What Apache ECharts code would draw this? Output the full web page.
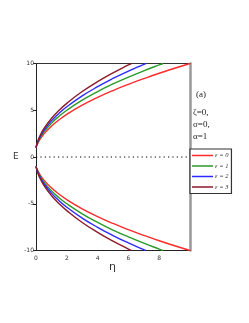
<!DOCTYPE html>
<html><head><meta charset="utf-8">
<script src="https://cdn.jsdelivr.net/npm/echarts@6/dist/echarts.min.js"></script>
<style>html,body{margin:0;padding:0;background:#fff;}#c{width:249px;height:323px;}</style>
</head><body><div id="c"></div>
<script>
// η sample points per curve and read-off E values (upper branch; lower branch mirrors)
const eta0 = [0, 0.1, 0.25, 0.5, 1, 1.5, 2, 3, 4, 5, 6, 7, 8, 9, 10];
const E0   = [1, 1.41, 1.86, 2.44, 3.30, 3.98, 4.56, 5.54, 6.37, 7.11, 7.77, 8.38, 8.96, 9.49, 10];
const eta1 = [0, 0.1, 0.25, 0.5, 1, 1.5, 2, 3, 4, 5, 6, 7, 8, 8.25];
const E1   = [1, 1.48, 2.00, 2.65, 3.61, 4.36, 5.00, 6.08, 7.00, 7.81, 8.54, 9.22, 9.85, 10];
const eta2 = [0, 0.1, 0.25, 0.5, 1, 1.5, 2, 3, 4, 5, 6, 7, 7.12];
const E2   = [1, 1.55, 2.12, 2.82, 3.86, 4.67, 5.37, 6.53, 7.52, 8.40, 9.19, 9.91, 10];
const eta3 = [0, 0.1, 0.25, 0.5, 1, 1.5, 2, 3, 4, 5, 6, 6.19];
const E3   = [1, 1.61, 2.24, 3.00, 4.12, 5.00, 5.74, 7.00, 8.06, 9.00, 9.85, 10];
const names = ['ε = 0', 'ε = 1', 'ε = 2', 'ε = 3'];
const colors = ['#ff2a2a', '#2a9a2a', '#2a2aff', '#8b1a2a'];
const xTicks = [0, 2, 4, 6, 8];
const yTicks = [-10, -5, 0, 5, 10];

const etas = [eta0, eta1, eta2, eta3];
const Es = [E0, E1, E2, E3];
const series = [];
for (let i = 0; i < 4; i++) {
  const up = etas[i].map((x, j) => [x, Es[i][j]]);
  const dn = etas[i].map((x, j) => [x, -Es[i][j]]);
  [up, dn].forEach(d => series.push({
    name: names[i], type: 'line', data: d, smooth: true, showSymbol: false,
    lineStyle: { color: colors[i], width: 1.4 }, itemStyle: { color: colors[i] },
    silent: true, animation: false, z: 3
  }));
}
series.push({
  name: 'zero', type: 'line', data: [[0, 0], [10, 0]], showSymbol: false,
  lineStyle: { color: '#000', width: 1.2, type: [1.2, 3.2] }, silent: true, animation: false, z: 2
});

const chart = echarts.init(document.getElementById('c'), null, { renderer: 'canvas' });
const lab = { fontSize: 6, color: '#333', fontFamily: 'DejaVu Sans' };
chart.setOption({
  animation: false,
  grid: { left: 36, right: 59, top: 63.5, bottom: 72.5, containLabel: false },
  xAxis: [{
    type: 'value', min: 0, max: 10, interval: 2, position: 'bottom',
    axisLine: { show: true, onZero: false, lineStyle: { color: '#222', width: 1 } },
    axisTick: { show: false }, splitLine: { show: false },
    axisLabel: Object.assign({ margin: 5, formatter: v => xTicks.includes(v) ? String(v) : '' }, lab)
  }, {
    type: 'value', min: 0, max: 10, position: 'top',
    axisLine: { show: true, onZero: false, lineStyle: { color: '#333', width: 1.2 } },
    axisTick: { show: false }, axisLabel: { show: false }, splitLine: { show: false }
  }],
  yAxis: [{
    type: 'value', min: -10, max: 10, interval: 5, position: 'left',
    axisLine: { show: true, onZero: false, lineStyle: { color: '#222', width: 1 } },
    axisTick: { show: true, length: 3, inside: false, lineStyle: { color: '#222' } },
    splitLine: { show: false },
    axisLabel: Object.assign({ margin: 2, formatter: v => yTicks.includes(v) ? String(v) : '' }, lab)
  }, {
    type: 'value', min: -10, max: 10, position: 'right',
    axisLine: { show: true, onZero: false, lineStyle: { color: '#999', width: 2.5 } },
    axisTick: { show: false }, axisLabel: { show: false }, splitLine: { show: false }
  }],
  legend: {
    data: names, orient: 'vertical', left: 190, top: 149,
    icon: 'rect', itemWidth: 21, itemHeight: 1.5, itemGap: 3.5,
    padding: [3, 3, 3, 2], borderColor: '#333', borderWidth: 1.2,
    backgroundColor: '#fff',
    textStyle: { fontSize: 6.5, fontFamily: 'Liberation Serif', fontStyle: 'italic', color: '#333', padding: [0, 0, 0, -3] },
    selectedMode: false
  },
  graphic: [
    { type: 'text', left: 13, top: 152, style: { text: 'E', font: '9px DejaVu Sans', fill: '#333' } },
    { type: 'text', left: 109, top: 262, style: { text: 'η', font: '11px DejaVu Sans', fill: '#333' } },
    { type: 'text', left: 196, top: 90, style: { text: '(a)', font: '9px Liberation Serif', fill: '#222' } },
    { type: 'text', left: 193, top: 108, style: { text: 'ζ=0,', font: '9px Liberation Serif', fill: '#222' } },
    { type: 'text', left: 193, top: 120, style: { text: 'σ=0,', font: '9px Liberation Serif', fill: '#222' } },
    { type: 'text', left: 193, top: 132, style: { text: 'α=1', font: '9px Liberation Serif', fill: '#222' } }
  ],
  series: series
});
</script>
</body></html>
